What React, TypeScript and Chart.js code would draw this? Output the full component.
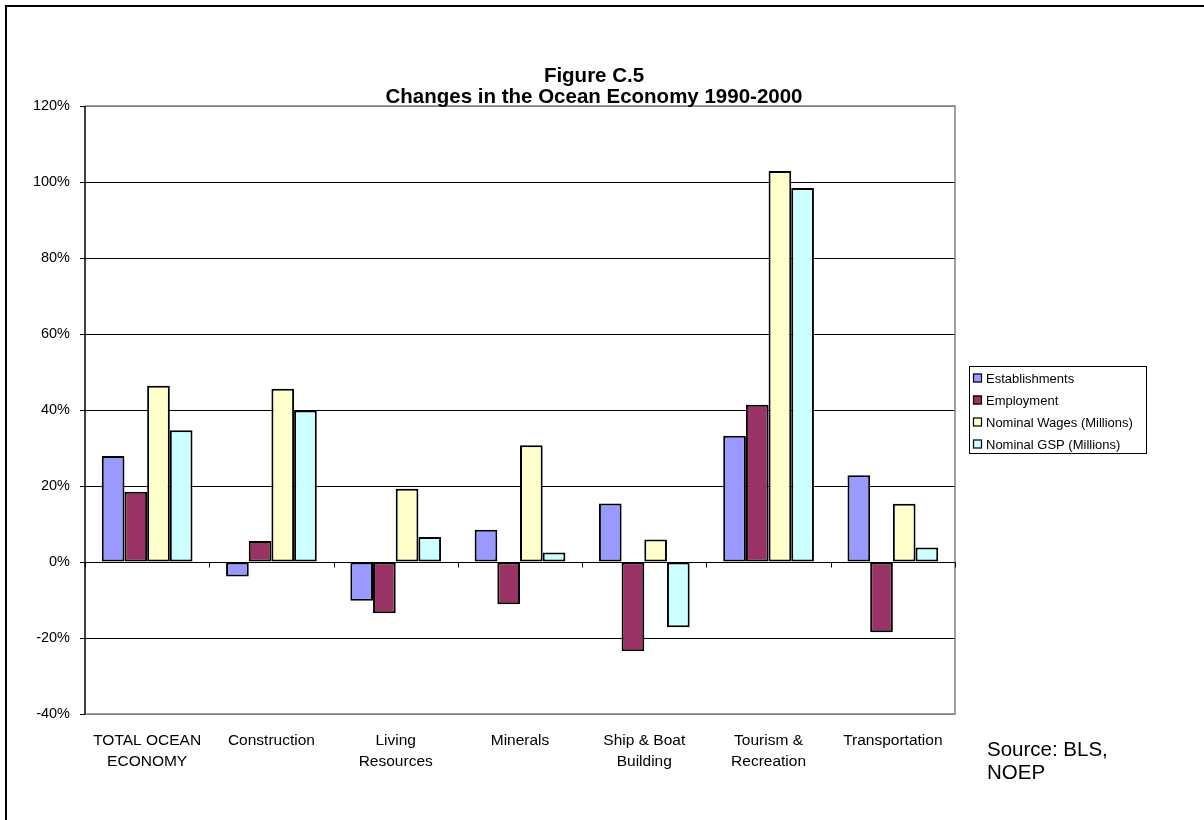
import React, { useEffect, useRef } from "react";
import { Chart, registerables } from "chart.js";

Chart.register(...registerables);

const categories: (string | string[])[] = [
  ["TOTAL OCEAN", "ECONOMY"],
  "Construction",
  ["Living", "Resources"],
  "Minerals",
  ["Ship & Boat", "Building"],
  ["Tourism &", "Recreation"],
  "Transportation",
];

const seriesNames = [
  "Establishments",
  "Employment",
  "Nominal Wages (Millions)",
  "Nominal GSP (Millions)",
];

const establishments = [27.9, -3.8, -10.2, 8.5, 15.4, 33.2, 22.8];
const employment = [18.5, 5.5, -13.5, -11.1, -23.5, 41.4, -18.5];
const nominalWages = [46.4, 45.6, 19.3, 30.7, 5.9, 102.9, 15.3];
const nominalGSP = [34.7, 39.9, 6.6, 2.5, -17.2, 98.4, 3.8];

const seriesColors = ["#9999FF", "#993366", "#FFFFCC", "#CCFFFF"];

const yTicks = [-40, -20, 0, 20, 40, 60, 80, 100, 120];

const titleLines = ["Figure C.5", "Changes in the Ocean Economy 1990-2000"];
const sourceLines = ["Source: BLS,", "NOEP"];

const FONT = "'Liberation Sans', Arial, sans-serif";

export default function App() {
  const canvasRef = useRef<HTMLCanvasElement | null>(null);

  useEffect(() => {
    const canvas = canvasRef.current;
    if (!canvas) return;

    const decor = {
      id: "decor",
      beforeDraw(chart: any) {
        const ctx = chart.ctx;
        ctx.save();
        ctx.fillStyle = "#fff";
        ctx.fillRect(0, 0, chart.width, chart.height);
        ctx.restore();
      },
      afterDraw(chart: any) {
        const ctx = chart.ctx;
        const area = chart.chartArea;
        const y = chart.scales.y;
        ctx.save();
        // outer frame
        ctx.fillStyle = "#000";
        ctx.fillRect(5, 5, 2, 815);
        ctx.fillRect(5, 5, 1199, 2);
        // plot border (top/right/bottom) gray
        ctx.strokeStyle = "#808080";
        ctx.lineWidth = 1.5;
        ctx.beginPath();
        ctx.moveTo(area.left, area.top);
        ctx.lineTo(area.right, area.top);
        ctx.lineTo(area.right, area.bottom);
        ctx.lineTo(area.left, area.bottom);
        ctx.stroke();
        // category axis at zero with tick marks
        const y0 = Math.round(y.getPixelForValue(0)) + 0.5;
        ctx.strokeStyle = "#000";
        ctx.lineWidth = 1;
        ctx.beginPath();
        ctx.moveTo(area.left, y0);
        ctx.lineTo(area.right, y0);
        const n = categories.length;
        const w = (area.right - area.left) / n;
        for (let i = 0; i <= n; i++) {
          const px = Math.round(area.left + i * w) + 0.5;
          ctx.moveTo(px, y0);
          ctx.lineTo(px, y0 + 5);
        }
        ctx.stroke();
        // y axis line
        ctx.lineWidth = 1.5;
        ctx.beginPath();
        ctx.moveTo(area.left, area.top);
        ctx.lineTo(area.left, area.bottom);
        ctx.stroke();

        // title
        ctx.fillStyle = "#000";
        ctx.textAlign = "center";
        ctx.textBaseline = "middle";
        ctx.font = `bold 20.5px ${FONT}`;
        ctx.fillText(titleLines[0], 594, 76);
        ctx.fillText(titleLines[1], 594, 97);

        // legend
        const lx = 969, ly = 366, lw = 177, lh = 87;
        ctx.strokeStyle = "#000";
        ctx.lineWidth = 1;
        ctx.strokeRect(lx + 0.5, ly + 0.5, lw, lh);
        ctx.font = `13px ${FONT}`;
        ctx.textAlign = "left";
        chart.data.datasets.forEach((ds: any, i: number) => {
          const cy = 378 + i * 22;
          ctx.fillStyle = ds.backgroundColor;
          ctx.fillRect(973, cy - 4.5, 9, 9);
          ctx.strokeStyle = "#000";
          ctx.lineWidth = 1.2;
          ctx.strokeRect(973.5, cy - 4, 8, 8);
          ctx.fillStyle = "#000";
          ctx.fillText(ds.label, 986, cy + 1);
        });

        // source
        ctx.font = `20.5px ${FONT}`;
        ctx.fillText(sourceLines[0], 987, 750);
        ctx.fillText(sourceLines[1], 987, 773);
        ctx.restore();
      },
    };

    const dataArrays = [establishments, employment, nominalWages, nominalGSP];

    const chart = new Chart(canvas, {
      type: "bar",
      data: {
        labels: categories,
        datasets: dataArrays.map((d, i) => ({
          label: seriesNames[i],
          data: d,
          backgroundColor: seriesColors[i],
          borderColor: "#000",
          borderWidth: 2,
          borderSkipped: false,
          categoryPercentage: 0.73,
          barPercentage: 1,
        })),
      },
      options: {
        responsive: false,
        animation: false,
        devicePixelRatio: 1,
        layout: { padding: { left: 0, right: 249, top: 106, bottom: 46 } },
        plugins: {
          legend: { display: false },
          title: { display: false },
          tooltip: { enabled: false },
        },
        scales: {
          x: {
            grid: { display: false },
            border: { display: false },
            ticks: {
              color: "#000",
              padding: 9,
              maxRotation: 0,
              autoSkip: false,
              font: { family: FONT, size: 15.5, lineHeight: 1.3 },
            },
            afterFit: (s: any) => {
              s.height = 60;
            },
          },
          y: {
            min: -40,
            max: 120,
            afterBuildTicks: (s: any) => {
              s.ticks = yTicks.map((v) => ({ value: v }));
            },
            grid: {
              color: (c: any) =>
                c.tick && (c.tick.value === 120 || c.tick.value === -40) ? "#808080" : "#000",
              lineWidth: 1,
              drawTicks: true,
              tickLength: 5,
              tickColor: "#000",
            },
            border: { display: false },
            ticks: {
              color: "#000",
              padding: 10,
              font: { family: FONT, size: 14.5 },
              callback: (v: any) => `${v}%`,
            },
            afterFit: (s: any) => {
              s.width = 85;
            },
          },
        },
      },
      plugins: [decor],
    });

    return () => chart.destroy();
  }, []);

  return (
    <div style={{ position: "absolute", left: 0, top: 0, width: 1204, height: 820, background: "#fff" }}>
      <canvas ref={canvasRef} width={1204} height={820} style={{ width: 1204, height: 820, display: "block" }} />
    </div>
  );
}
